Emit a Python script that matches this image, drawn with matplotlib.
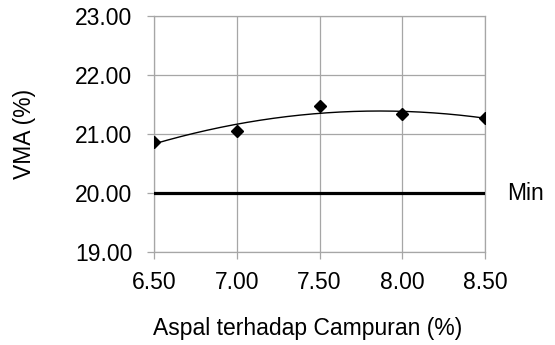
import numpy as np
import matplotlib
matplotlib.use("Agg")
import matplotlib.pyplot as plt

plt.rcParams['font.family'] = ['Liberation Sans', 'DejaVu Sans']

# data
aspal = [6.50, 7.00, 7.50, 8.00, 8.50]
vma = [20.87, 21.05, 21.47, 21.34, 21.27]
vma_min = 20.00
x_ticks = [6.50, 7.00, 7.50, 8.00, 8.50]
y_ticks = [19.00, 20.00, 21.00, 22.00, 23.00]

fs = 16.5
grid_col = '#a6a6a6'

fig = plt.figure(figsize=(5.55, 3.45), dpi=100)
ax = fig.add_axes([154 / 555, 1 - 252 / 345, (485 - 154) / 555, (252 - 16) / 345])

# polynomial trendline (order 2), like the spreadsheet one
coef = np.polyfit(aspal, vma, 2)
xs = np.linspace(min(aspal), max(aspal), 200)
ax.plot(xs, np.polyval(coef, xs), color='black', lw=1.0, zorder=3)

ax.plot(aspal, vma, linestyle='none', marker='D', ms=6.5, color='black', zorder=4)

ax.plot([x_ticks[0], x_ticks[-1]], [vma_min, vma_min], color='black', lw=2.3, zorder=3)
ax.text(1.066, vma_min, 'Min', transform=ax.get_yaxis_transform(),
        ha='left', va='center', fontsize=fs, clip_on=False)

ax.set_xlim(x_ticks[0], x_ticks[-1])
ax.set_ylim(y_ticks[0], y_ticks[-1])
ax.set_xticks(x_ticks)
ax.set_yticks(y_ticks)
ax.set_xticklabels([f'{v:.2f}' for v in x_ticks])
ax.set_yticklabels([f'{v:.2f}' for v in y_ticks])
ax.grid(True, color=grid_col, lw=0.9)
ax.set_axisbelow(True)
for s in ax.spines.values():
    s.set_color(grid_col)
    s.set_linewidth(0.9)
ax.tick_params(axis='both', colors=grid_col, labelcolor='black', labelsize=fs,
               length=5, width=0.9)
ax.tick_params(axis='y', pad=10.5)
ax.tick_params(axis='x', pad=8.5)

fig.text(25 / 555, 1 - 134 / 345, 'VMA (%)', rotation=90, ha='center', va='center',
         fontsize=fs)
fig.text(307.5 / 555, 1 - 328 / 345, 'Aspal terhadap Campuran (%)', ha='center',
         va='center', fontsize=fs)

fig.savefig('out.png', dpi=100)
